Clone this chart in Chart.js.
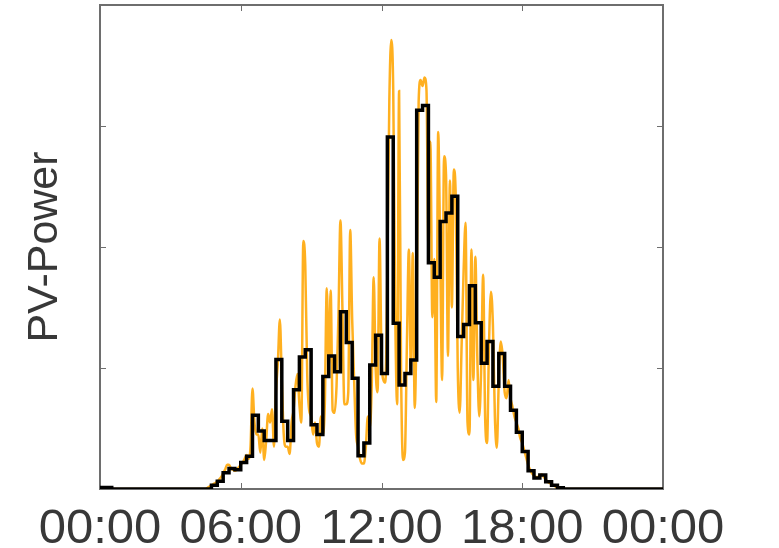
<!DOCTYPE html>
<html>
<head>
<meta charset="utf-8">
<title>PV-Power</title>
<script src="https://cdn.jsdelivr.net/npm/chart.js@4.4.1/dist/chart.umd.min.js"></script>
<style>
  html, body { margin: 0; padding: 0; background: #fff; }
  #wrap { width: 779px; height: 548px; position: relative; }
</style>
</head>
<body>
<div id="wrap"><canvas id="pv"></canvas></div>
<script>
// 15-minute mean power, one row per two hours (8 quarters)
const quarterPower = [
  0.012, 0.012, 0, 0, 0, 0, 0, 0,                    // 00:00
  0, 0, 0, 0, 0, 0, 0, 0,                            // 02:00
  0, 0, 0, 0.03, 0.065, 0.135, 0.17, 0.16,           // 04:00
  0.22, 0.27, 0.61, 0.48, 0.40, 0.40, 1.07, 0.56,    // 06:00
  0.40, 0.82, 1.09, 1.15, 0.53, 0.45, 0.93, 1.10,    // 08:00
  0.97, 1.465, 1.21, 0.915, 0.275, 0.38, 1.025, 1.27, // 10:00
  0.955, 2.91, 1.37, 0.86, 0.955, 1.066, 3.13, 3.17, // 12:00
  1.87, 1.75, 2.21, 2.28, 2.42, 1.26, 1.36, 1.68,    // 14:00
  1.375, 1.04, 1.22, 0.85, 1.12, 0.85, 0.65, 0.47,   // 16:00
  0.31, 0.15, 0.09, 0.115, 0.06, 0.03, 0.01, 0,      // 18:00
  0, 0, 0, 0, 0, 0, 0, 0,                            // 20:00
  0, 0, 0, 0, 0, 0, 0, 0                             // 22:00
];

// 5-minute measured power, one row per hour (12 samples)
const finePower = [
  0, 0, 0, 0, 0, 0, 0, 0, 0, 0, 0, 0,                                   // 00
  0, 0, 0, 0, 0, 0, 0, 0, 0, 0, 0, 0,                                   // 01
  0, 0, 0, 0, 0, 0, 0, 0, 0, 0, 0, 0,                                   // 02
  0, 0, 0, 0, 0, 0, 0, 0, 0, 0, 0, 0,                                   // 03
  0, 0, 0, 0, 0, 0, 0, 0.01, 0.02, 0.03, 0.04, 0.05,                    // 04
  0.06, 0.08, 0.1, 0.13, 0.16, 0.2, 0.2, 0.17, 0.16, 0.15, 0.16, 0.18,  // 05
  0.2, 0.22, 0.25, 0.28, 0.25, 0.35, 0.83, 0.55, 0.45, 0.45, 0.3, 0.5,  // 06
  0.24, 0.4, 0.62, 0.55, 0.66, 0.35, 0.8, 1.05, 1.4, 0.9, 0.45, 0.35,   // 07
  0.35, 0.29, 0.55, 0.65, 0.85, 0.95, 0.7, 0.55, 2.05, 1.85, 0.95, 0.65, // 08
  0.6, 0.45, 0.55, 0.38, 0.35, 0.6, 0.45, 0.7, 1.66, 1.0, 1.64, 0.65,   // 09
  0.63, 0.85, 1.45, 2.22, 1.5, 0.7, 0.7, 0.8, 2.14, 1.4, 0.9, 0.45,     // 10
  0.35, 0.25, 0.21, 0.21, 0.35, 0.6, 0.5, 0.85, 1.75, 1.0, 0.8, 2.07,   // 11
  1.1, 0.9, 0.88, 1.8, 3.2, 3.71, 3.3, 1.5, 0.7, 3.29, 1.0, 0.24,       // 12
  0.3, 1.2, 1.98, 1.0, 1.95, 0.67, 1.5, 3.2, 3.38, 3.33, 3.4, 3.3,      // 13
  2.0, 2.87, 1.42, 1.9, 0.72, 2.95, 2.0, 0.9, 2.75, 2.6, 1.1, 2.55,     // 14
  1.5, 2.64, 2.4, 1.0, 0.63, 1.2, 1.8, 2.2, 0.55, 0.45, 1.98, 0.9,      // 15
  1.92, 1.1, 0.6, 1.0, 1.77, 0.6, 0.38, 1.2, 1.63, 1.35, 0.6, 0.34,     // 16
  0.9, 1.22, 1.1, 0.8, 0.75, 0.9, 0.75, 0.68, 0.6, 0.55, 0.5, 0.42,     // 17
  0.38, 0.32, 0.26, 0.2, 0.16, 0.13, 0.11, 0.1, 0.1, 0.11, 0.12, 0.1,   // 18
  0.08, 0.06, 0.05, 0.04, 0.03, 0.02, 0.015, 0.01, 0.005, 0, 0, 0,      // 19
  0, 0, 0, 0, 0, 0, 0, 0, 0, 0, 0, 0,                                   // 20
  0, 0, 0, 0, 0, 0, 0, 0, 0, 0, 0, 0,                                   // 21
  0, 0, 0, 0, 0, 0, 0, 0, 0, 0, 0, 0,                                   // 22
  0, 0, 0, 0, 0, 0, 0, 0, 0, 0, 0, 0                                    // 23
];

// tick positions in minutes of the day and their labels
const hourTicks = [0, 360, 720, 1080, 1440];
const hourLabels = ["00:00", "06:00", "12:00", "18:00", "00:00"];
const powerTicks = [1, 2, 3];

const AXIS_COLOR = "#6e6e6e";
const TEXT_COLOR = "#383838";

// turn a list sampled every `step` minutes into {x, y} points,
// repeating the last value at 24:00 so the final step is closed
function toPoints(values, step) {
  const pts = values.map((v, i) => ({ x: i * step, y: v }));
  pts.push({ x: values.length * step, y: values[values.length - 1] });
  return pts;
}

// box around the plot with short inward ticks on all four sides
const boxFrame = {
  id: "boxFrame",
  beforeDatasetsDraw(chart) {
    const { ctx, chartArea: a, scales } = chart;
    const len = 6;
    ctx.save();
    ctx.strokeStyle = AXIS_COLOR;
    ctx.lineWidth = 1;
    ctx.beginPath();
    hourTicks.slice(1, -1).forEach((t) => {
      const x = Math.round(scales.x.getPixelForValue(t)) + 0.5;
      ctx.moveTo(x, a.bottom); ctx.lineTo(x, a.bottom - len);
      ctx.moveTo(x, a.top); ctx.lineTo(x, a.top + len);
    });
    powerTicks.forEach((t) => {
      const y = Math.round(scales.y.getPixelForValue(t)) + 0.5;
      ctx.moveTo(a.left, y); ctx.lineTo(a.left + len, y);
      ctx.moveTo(a.right, y); ctx.lineTo(a.right - len, y);
    });
    ctx.stroke();
    ctx.lineWidth = 2;
    ctx.strokeRect(a.left, a.top, a.right - a.left, a.bottom - a.top);
    ctx.restore();
  }
};

new Chart(document.getElementById("pv"), {
  type: "line",
  data: {
    datasets: [
      {
        label: "15 min",
        data: toPoints(quarterPower, 15),
        // hold each quarter's value until the next quarter starts
        stepped: "before",
        borderColor: "#000000",
        borderWidth: 3.5,
        pointRadius: 0,
        fill: false,
        order: 0
      },
      {
        label: "5 min",
        data: toPoints(finePower, 5),
        borderColor: "#ffb020",
        borderWidth: 2.5,
        pointRadius: 0,
        cubicInterpolationMode: "monotone",
        fill: false,
        order: 1
      }
    ]
  },
  options: {
    responsive: true,
    maintainAspectRatio: false,
    animation: false,
    layout: { padding: { top: 5, right: 116, left: 0, bottom: 0 } },
    plugins: { legend: { display: false }, tooltip: { enabled: false } },
    scales: {
      x: {
        type: "linear",
        min: 0,
        max: 1440,
        afterBuildTicks: (s) => { s.ticks = hourTicks.map((v) => ({ value: v })); },
        afterFit: (s) => { s.height = 59; },
        grid: { display: false, drawTicks: false },
        border: { display: false },
        ticks: {
          autoSkip: false,
          maxRotation: 0,
          padding: 11,
          color: TEXT_COLOR,
          font: { family: "'Liberation Sans', Arial, sans-serif", size: 49 },
          callback: (v) => hourLabels[hourTicks.indexOf(v)]
        }
      },
      y: {
        min: 0,
        max: 4,
        afterBuildTicks: (s) => { s.ticks = powerTicks.map((v) => ({ value: v })); },
        afterFit: (s) => { s.width = 100; },
        grid: { display: false, drawTicks: false },
        border: { display: false },
        ticks: { display: false },
        title: {
          display: true,
          text: "PV-Power",
          color: TEXT_COLOR,
          padding: { top: 19, bottom: 0 },
          font: { family: "'Liberation Sans', Arial, sans-serif", size: 43 }
        }
      }
    }
  },
  plugins: [boxFrame]
});
</script>
</body>
</html>
